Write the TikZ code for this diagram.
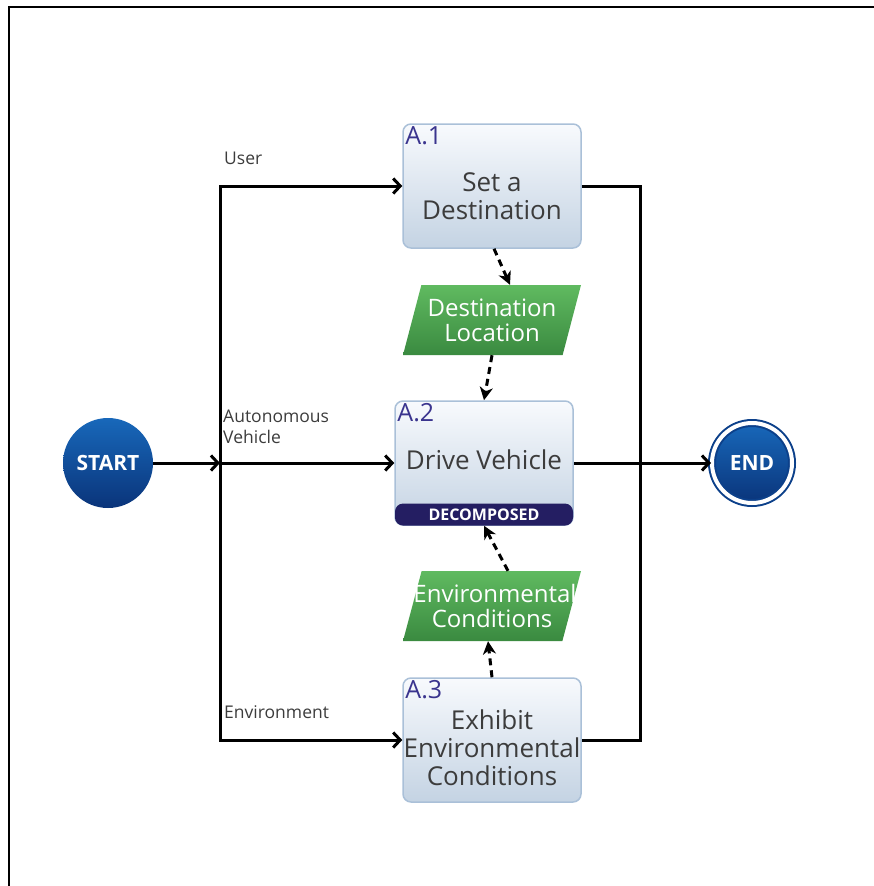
\documentclass[tikz,border=0pt]{standalone}
\usepackage{fontspec}
\setmainfont{Open Sans}
\usetikzlibrary{arrows.meta,shapes.geometric}

\definecolor{boxtop}{RGB}{248,250,253}
\definecolor{boxbot}{RGB}{196,211,227}
\definecolor{boxline}{RGB}{170,192,216}
\definecolor{idblue}{RGB}{58,52,142}
\definecolor{textgray}{RGB}{60,60,60}
\definecolor{bartop}{RGB}{36,30,98}
\definecolor{termtop}{RGB}{24,104,186}
\definecolor{termbot}{RGB}{10,52,122}
\definecolor{termline}{RGB}{12,64,138}
\definecolor{datatop}{RGB}{96,186,96}
\definecolor{databot}{RGB}{58,138,64}

\tikzset{
  actbox/.style={rectangle, rounded corners=8, draw=boxline, line width=1.5,
    top color=boxtop, bottom color=boxbot, minimum width=178, minimum height=124},
  acttext/.style={align=center, text=textgray, font=\fontsize{26}{28}\selectfont},
  idtag/.style={anchor=base west, inner sep=0, text=idblue, font=\fontsize{25}{28}\selectfont},
  bar/.style={rectangle, rounded corners=8, fill=bartop, text=white,
    minimum width=178, minimum height=22, inner sep=0, font=\bfseries\fontsize{16}{18}\selectfont},
  datashape/.style={trapezium, trapezium left angle=66.8, trapezium right angle=113.2,
    trapezium stretches body, top color=datatop, bottom color=databot, text=white,
    minimum width=178, minimum height=70, inner sep=0, align=center,
    font=\fontsize{24}{25}\selectfont},
  term/.style={circle, top color=termtop, bottom color=termbot, text=white,
    inner sep=0, font=\bfseries\fontsize{21}{24}\selectfont},
  side/.style={inner sep=0, text=textgray, align=left, font=\fontsize{17.5}{21}\selectfont},
  flow/.style={line width=3, -{Straight Barb[length=7,width=15]}},
  wire/.style={line width=3},
  feed/.style={line width=3, dash pattern=on 7 off 5, -{Stealth[length=13,width=13,inset=4]}}
}

\begin{document}
\begin{tikzpicture}[x=1pt,y=-1pt]
\useasboundingbox (0,0) rectangle (874,886);
\draw[line width=2] (9,886) -- (9,7) -- (874,7);

% terminals
\node[term, minimum size=90] (start) at (108,463) {START};
\node[term, minimum size=80, draw=termline, line width=2, double=white, double distance=4]
  (end) at (752,463) {END};

% activities
\node[actbox] (a1) at (492,186) {};
\node[actbox] (a2) at (484,463) {};
\node[actbox] (a3) at (492,740) {};
\node[bar, anchor=south] (a2bar) at (a2.south) {DECOMPOSED};

\node[idtag] (a1id) at ([shift={(3,21)}]a1.north west) {A.1};
\node[idtag] (a2id) at ([shift={(3,21)}]a2.north west) {A.2};
\node[idtag] (a3id) at ([shift={(3,21)}]a3.north west) {A.3};

\node[acttext] (a1txt) at ([yshift=-10]a1.center) {Set a\\Destination};
\node[acttext] (a2txt) at ([yshift=3]a2.center) {Drive Vehicle};
\node[acttext] (a3txt) at ([yshift=-8]a3.center) {Exhibit\\Environmental\\Conditions};

% data
\node[datashape] (dest) at (492,320)
  {\makebox[0pt]{Destination}\\\makebox[0pt]{Location}};
\node[datashape] (env) at (492,606)
  {\makebox[0pt]{\hspace{6pt}Environmental}\\\makebox[0pt]{Conditions}};

% flows
\coordinate (fork) at (220,463);
\coordinate (join) at (640,463);
\draw[flow] (start) -- (fork);
\draw[flow] (fork) |- (a1.west);
\draw[flow] (fork) -- (a2.west);
\draw[flow] (fork) |- (a3.west);
\draw[wire] (a1.east) -| (join) |- (a3.east);
\draw[flow] (a2.east) -- (end);

\draw[feed] ([xshift=2]a1.south) -- ([xshift=18]dest.north);
\draw[feed] (dest.south) -- (a2.north);
\draw[feed] (a3.north) -- ([xshift=-4]env.south);
\draw[feed] ([xshift=16]env.north) -- (a2bar.south);

\node[side, anchor=west] (user) at (224,158) {User};
\node[side, anchor=north west] (auto) at (223,410) {Autonomous\\Vehicle};
\node[side, anchor=west] (envlbl) at (224,712) {Environment};
\end{tikzpicture}
\end{document}
